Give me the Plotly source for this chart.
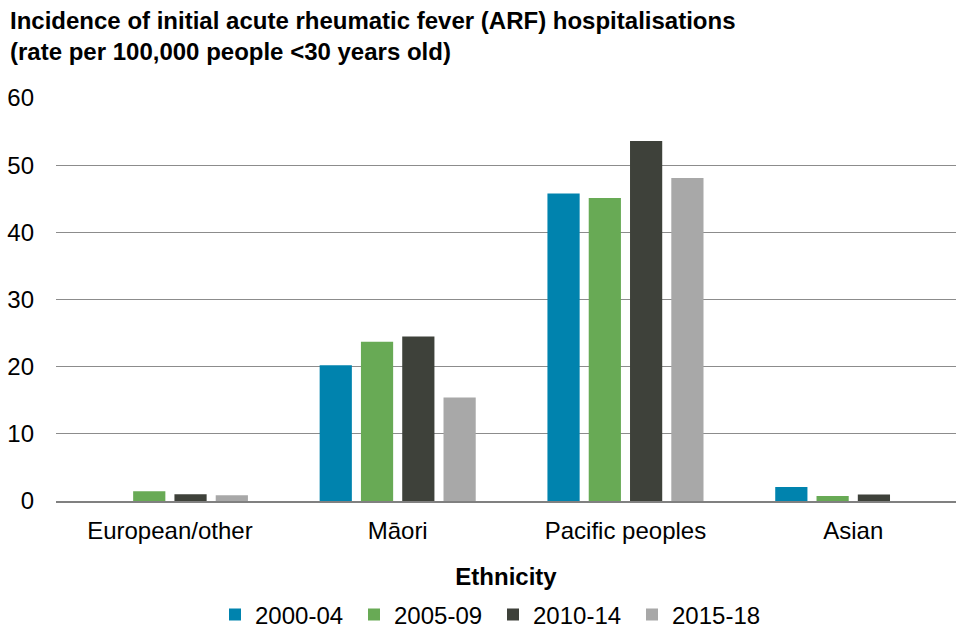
import plotly.graph_objects as go

categories = ["European/other", "Māori", "Pacific peoples", "Asian"]
periods = ["2000-04", "2005-09", "2010-14", "2015-18"]
v_2000_04 = [0.0, 20.2, 45.8, 2.1]
v_2005_09 = [1.45, 23.7, 45.1, 0.75]
v_2010_14 = [1.0, 24.5, 53.6, 0.95]
v_2015_18 = [0.85, 15.4, 48.1, None]
colors = ["#0083AE", "#68AA55", "#3E413A", "#A8A8A8"]

series = [v_2000_04, v_2005_09, v_2010_14, v_2015_18]
font = "Liberation Sans, Arial, sans-serif"
FS = 24

fig = go.Figure()
for name, vals, c in zip(periods, series, colors):
    fig.add_trace(go.Bar(x=categories, y=vals, name=name, marker_color=c,
                         marker_line_width=0))

fig.update_layout(
    width=956, height=629,
    margin=dict(l=56, r=0, t=98, b=128, autoexpand=False),
    paper_bgcolor="white", plot_bgcolor="white",
    font=dict(family=font, size=FS, color="#000000"),
    barmode="group", bargap=0.275, bargroupgap=0.22,
    title=dict(text="<b>Incidence of initial acute rheumatic fever (ARF) hospitalisations<br>(rate per 100,000 people <30 years old)</b>",
               x=10 / 956, xanchor="left", xref="container",
               y=(629 - 29) / 629, yanchor="middle", yref="container",
               font=dict(family=font, size=FS, color="#000000")),
    showlegend=True,
    legend=dict(orientation="h", x=(229 - 14) / 956, xanchor="left", xref="container",
                y=(629 - 615) / 629, yanchor="middle", yref="container",
                font=dict(family=font, size=24), traceorder="normal",
                itemwidth=30, entrywidth=94, entrywidthmode="pixels"),
)
fig.update_xaxes(range=[-0.5, 3.451], showgrid=False, showline=True, linecolor="#808080", linewidth=2,
                 ticks="", tickfont=dict(size=FS), ticklabelstandoff=7,
                 title=dict(text="<b>Ethnicity</b>", font=dict(size=FS), standoff=25))
fig.update_yaxes(range=[0, 60], dtick=10, showgrid=True, gridcolor="#8C8C8C", gridwidth=1,
                 zeroline=False, showline=False, ticks="", tickfont=dict(size=FS),
                 ticklabelstandoff=21)

fig.write_html("out.html", config={"displayModeBar": False},
               post_script="document.body.style.margin='0';")
